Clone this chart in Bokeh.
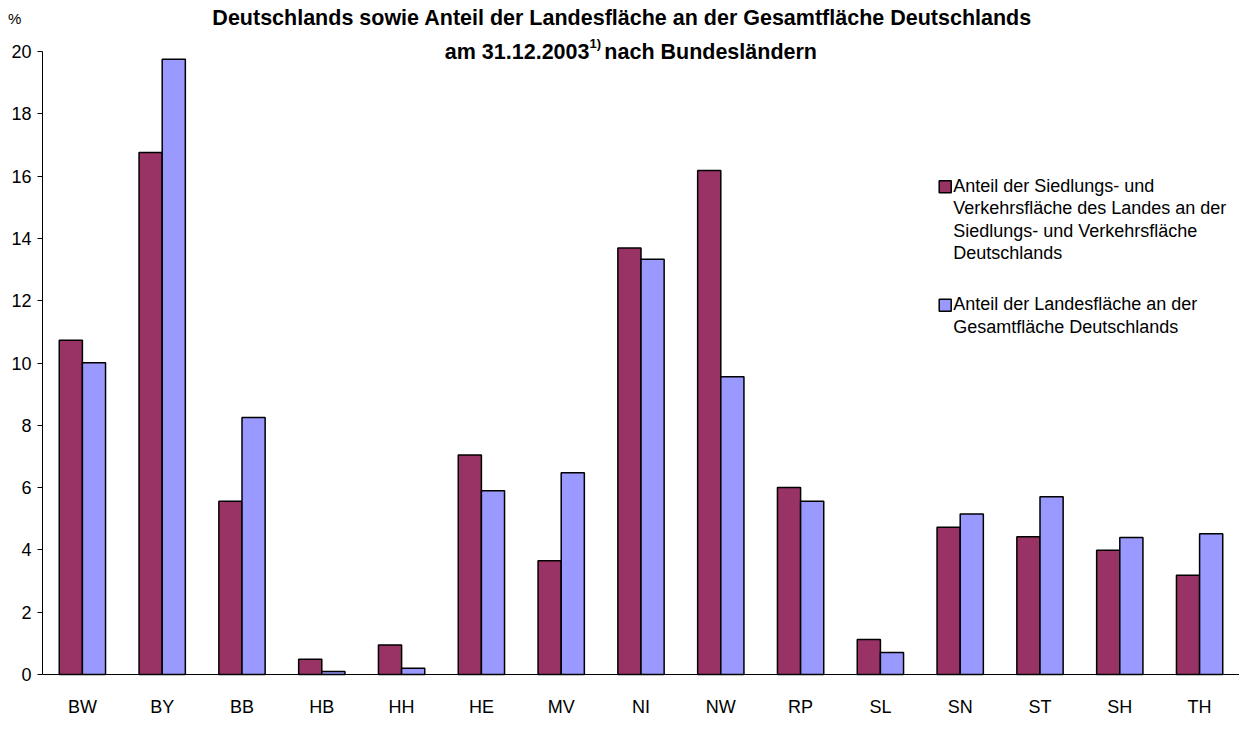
from bokeh.plotting import figure
from bokeh.models import ColumnDataSource, Label, Range1d, FixedTicker
from bokeh.transform import dodge
from bokeh.embed import file_html
from bokeh.resources import INLINE

# ---- data ----
states = ["BW", "BY", "BB", "HB", "HH", "HE", "MV", "NI", "NW", "RP", "SL", "SN", "ST", "SH", "TH"]
siedlung = [10.73, 16.76, 5.56, 0.49, 0.95, 7.05, 3.65, 13.69, 16.18, 6.00, 1.12, 4.73, 4.42, 3.99, 3.19]
landes = [10.01, 19.75, 8.25, 0.10, 0.20, 5.90, 6.48, 13.33, 9.56, 5.56, 0.71, 5.15, 5.71, 4.40, 4.52]
y_ticks = [0, 2, 4, 6, 8, 10, 12, 14, 16, 18, 20]
series_names = [
    ["Anteil der Siedlungs- und", "Verkehrsfläche des Landes an der",
     "Siedlungs- und Verkehrsfläche", "Deutschlands"],
    ["Anteil der Landesfläche an der", "Gesamtfläche Deutschlands"],
]
title_line1 = "Deutschlands sowie Anteil der Landesfläche an der Gesamtfläche Deutschlands"
title_line2a = "am 31.12.2003"
title_sup = "1)"
title_line2b = "nach Bundesländern"
y_unit = "%"

C_MAROON = "#993366"
C_BLUE = "#9999FF"
FONT = "Liberation Sans"

# ---- layout (figure pixels) ----
W, H = 1239, 715
N = len(states)
YMAX = 20
AXIS_X = 42      # x of the value axis
AXIS_Y0 = 674    # y of value 0
AXIS_YT = 51     # y of value 20
PX_X = (W - AXIS_X) / N
PX_Y = (AXIS_Y0 - AXIS_YT) / YMAX

# reference-picture pixel -> figure pixel
SX = (W - AXIS_X) / (1250 - 42)
SY = (AXIS_Y0 - AXIS_YT) / (687 - 51)


def dx(rx):
    return (AXIS_X + (rx - 42) * SX - AXIS_X) / PX_X


def dy(ry):
    return (AXIS_Y0 - (AXIS_YT + (ry - 51) * SY)) / PX_Y


source = ColumnDataSource(data=dict(
    pos=[i + 0.5 for i in range(N)], state=states, siedlung=siedlung, landes=landes))

p = figure(width=W, height=H,
           x_range=Range1d(-AXIS_X / PX_X, N),
           y_range=Range1d(-(H - AXIS_Y0) / PX_Y, YMAX + AXIS_YT / PX_Y),
           output_backend="svg", toolbar_location=None, title=None,
           min_border=0, min_border_left=0, min_border_right=0,
           min_border_top=0, min_border_bottom=0)
p.outline_line_color = None
p.xgrid.grid_line_color = None
p.ygrid.grid_line_color = None
p.background_fill_color = "white"
p.border_fill_color = "white"

bw = 0.29
p.vbar(x=dodge("pos", -bw / 2), top="siedlung", width=bw, source=source,
       fill_color=C_MAROON, line_color="black", line_width=1.5)
p.vbar(x=dodge("pos", bw / 2), top="landes", width=bw, source=source,
       fill_color=C_BLUE, line_color="black", line_width=1.5)

# value axis
p.yaxis.fixed_location = 0
p.yaxis.bounds = (0, YMAX)
p.yaxis.ticker = FixedTicker(ticks=y_ticks)
p.yaxis.minor_tick_line_color = None
p.yaxis.major_tick_out = 5
p.yaxis.major_tick_in = 0
p.yaxis.major_label_standoff = 6
p.yaxis.major_label_text_font = FONT
p.yaxis.major_label_text_font_size = "18px"
p.yaxis.major_label_text_color = "black"
p.yaxis.axis_line_color = "black"
p.yaxis.major_tick_line_color = "black"

# category axis
p.xaxis.fixed_location = 0
p.xaxis.bounds = (0, N)
p.xaxis.ticker = FixedTicker(ticks=[i + 0.5 for i in range(N)])
p.xaxis.major_label_overrides = {i + 0.5: s for i, s in enumerate(states)}
p.xaxis.minor_tick_line_color = None
p.xaxis.major_tick_out = 0
p.xaxis.major_tick_in = 0
p.xaxis.major_label_standoff = 22
p.xaxis.major_label_text_font = FONT
p.xaxis.major_label_text_font_size = "18px"
p.xaxis.major_label_text_color = "black"
p.xaxis.axis_line_color = "black"


# title, unit and legend texts
def add_text(rx, ry, text, size, align="left", bold=False):
    p.add_layout(Label(x=dx(rx), y=dy(ry), text=text, text_align=align,
                       text_baseline="middle", text_font=FONT,
                       text_font_style="bold" if bold else "normal",
                       text_font_size=size, text_color="black"))


add_text(627, 17, title_line1, "21.5px", align="center", bold=True)
add_text(594, 51, title_line2a, "21.5px", align="right", bold=True)
add_text(594, 43, title_sup, "13px", align="left", bold=True)
add_text(609, 51, title_line2b, "21.5px", align="left", bold=True)
add_text(14, 17, y_unit, "15px", align="center")

legend_colors = [C_MAROON, C_BLUE]
legend_first_y = [188, 309]
line_step = 23
for names, col, y0 in zip(series_names, legend_colors, legend_first_y):
    p.scatter(x=[dx(953)], y=[dy(y0 + 1)], marker="square", size=12,
              fill_color=col, line_color="black", line_width=1.5)
    for i, t in enumerate(names):
        add_text(961, y0 + i * line_step, t, "18px")

open("out.html", "w").write(file_html(p, INLINE))
